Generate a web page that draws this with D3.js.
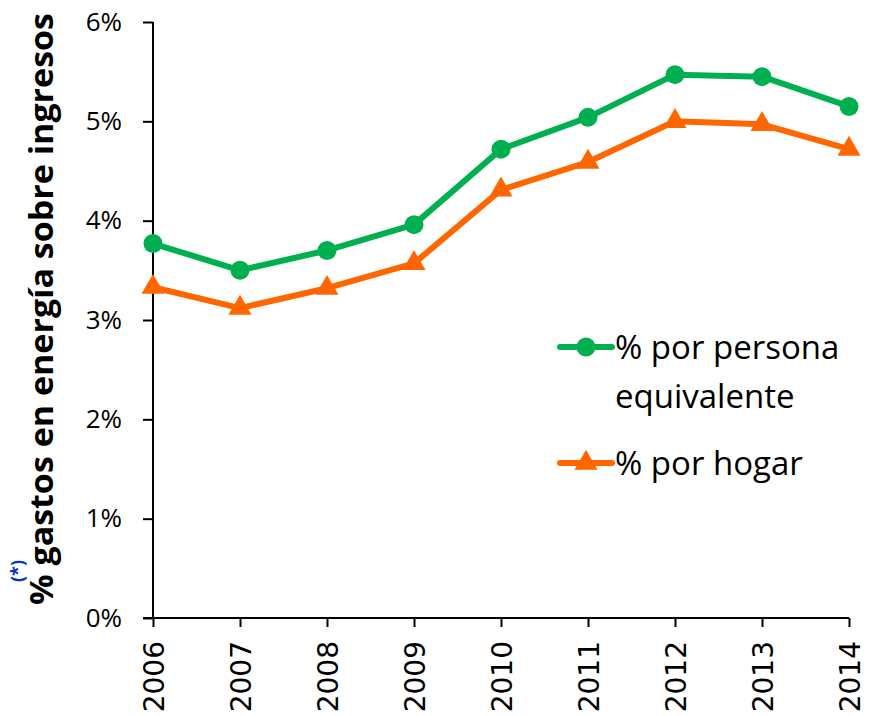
<!DOCTYPE html>
<html lang="es">
  <head>
    <meta charset="UTF-8" />
    <title>% gastos en energía sobre ingresos</title>
    <script src="https://d3js.org/d3.v7.min.js"></script>
    <style>
      body { margin: 0; background: #fff; }
      .tick text { fill: #000; }
    </style>
  </head>
  <body>
    <svg id="chart" width="880" height="716"></svg>
    <script>
      const years = [2006, 2007, 2008, 2009, 2010, 2011, 2012, 2013, 2014];
      const porPersona = [3.77, 3.50, 3.70, 3.96, 4.72, 5.04, 5.47, 5.45, 5.15];
      const porHogar = [3.33, 3.12, 3.32, 3.57, 4.31, 4.59, 5.00, 4.97, 4.72];
      const yTicks = [0, 1, 2, 3, 4, 5, 6];
      const seriesNames = ["% por persona", "% por hogar"];

      const svg = d3.select("#chart");
      const margin = { top: 22, right: 31, bottom: 98, left: 153 };
      const width = 880 - margin.left - margin.right;
      const height = 716 - margin.top - margin.bottom;
      const green = "#00b050";
      const orange = "#ff6600";

      const g = svg.append("g").attr("transform", `translate(${margin.left},${margin.top})`);

      const x = d3.scaleLinear().domain([2006, 2014]).range([0, width]);
      const y = d3.scaleLinear().domain([0, 6]).range([height, 0]);

      // y axis
      const yAxis = g.append("g")
        .call(d3.axisLeft(y).tickValues(yTicks).tickFormat(d => d + "%").tickSize(10).tickPadding(21));
      yAxis.selectAll("text").style("font-family", "'Open Sans', sans-serif").style("font-size", "26px");
      yAxis.selectAll("line, path").attr("stroke", "#000").attr("stroke-width", 2);
      yAxis.select("path").attr("d", `M0,${height}V0`);

      // x axis
      const xAxis = g.append("g")
        .attr("transform", `translate(0,${height})`)
        .call(d3.axisBottom(x).tickValues(years).tickFormat(d3.format("d")).tickSize(9).tickPadding(0));
      xAxis.selectAll("line, path").attr("stroke", "#000").attr("stroke-width", 2);
      xAxis.select("path").attr("d", `M-10,0H${width}`);
      xAxis.selectAll("text")
        .style("font-family", "'DejaVu Sans', sans-serif")
        .style("font-size", "28px")
        .attr("text-anchor", "end")
        .attr("dy", "0.36em")
        .attr("transform", "translate(0,23) rotate(-90)")
        .attr("x", 0)
        .attr("y", 0);

      const line = d3.line().x((d, i) => x(years[i])).y(d => y(d));

      // por hogar series
      g.append("path").datum(porHogar)
        .attr("fill", "none").attr("stroke", orange).attr("stroke-width", 6)
        .attr("stroke-linejoin", "round").attr("d", line);
      const tri = d3.symbol().type(d3.symbolTriangle).size(230);
      g.selectAll(".tri").data(porHogar).join("path")
        .attr("class", "tri")
        .attr("fill", orange)
        .attr("transform", (d, i) => `translate(${x(years[i])},${y(d)})`)
        .attr("d", tri);

      // por persona series
      g.append("path").datum(porPersona)
        .attr("fill", "none").attr("stroke", green).attr("stroke-width", 6)
        .attr("stroke-linejoin", "round").attr("d", line);
      g.selectAll(".dot").data(porPersona).join("circle")
        .attr("class", "dot")
        .attr("fill", green)
        .attr("r", 9.5)
        .attr("cx", (d, i) => x(years[i]))
        .attr("cy", d => y(d));

      // legend
      const legend = svg.append("g").style("font-family", "'Open Sans', sans-serif").style("font-size", "33px");
      const l1 = legend.append("g").attr("transform", "translate(560,347)");
      l1.append("line").attr("x1", 0).attr("x2", 52).attr("stroke", green).attr("stroke-width", 6).attr("stroke-linecap", "round");
      l1.append("circle").attr("cx", 26).attr("r", 9.5).attr("fill", green);
      l1.append("text").attr("x", 55).attr("y", 12).text(seriesNames[0]);
      l1.append("text").attr("x", 55).attr("y", 61).text("equivalente");

      const l2 = legend.append("g").attr("transform", "translate(560,463)");
      l2.append("line").attr("x1", 0).attr("x2", 52).attr("stroke", orange).attr("stroke-width", 6).attr("stroke-linecap", "round");
      l2.append("path").attr("transform", "translate(26,0)").attr("d", tri).attr("fill", orange);
      l2.append("text").attr("x", 55).attr("y", 12).text(seriesNames[1]);

      // y axis title
      svg.append("text")
        .attr("transform", "translate(53,309) rotate(-90)")
        .attr("text-anchor", "middle")
        .attr("textLength", 592)
        .attr("lengthAdjust", "spacingAndGlyphs")
        .style("font-family", "'Open Sans', sans-serif")
        .style("font-weight", "bold")
        .style("font-size", "32px")
        .text("% gastos en energía sobre ingresos");

      svg.append("text")
        .attr("transform", "translate(24,582) rotate(-90)")
        .attr("fill", "#0033cc")
        .style("font-family", "'Open Sans', sans-serif")
        .style("font-weight", "bold")
        .style("font-size", "18px")
        .text("(*)");
    </script>
  </body>
</html>
